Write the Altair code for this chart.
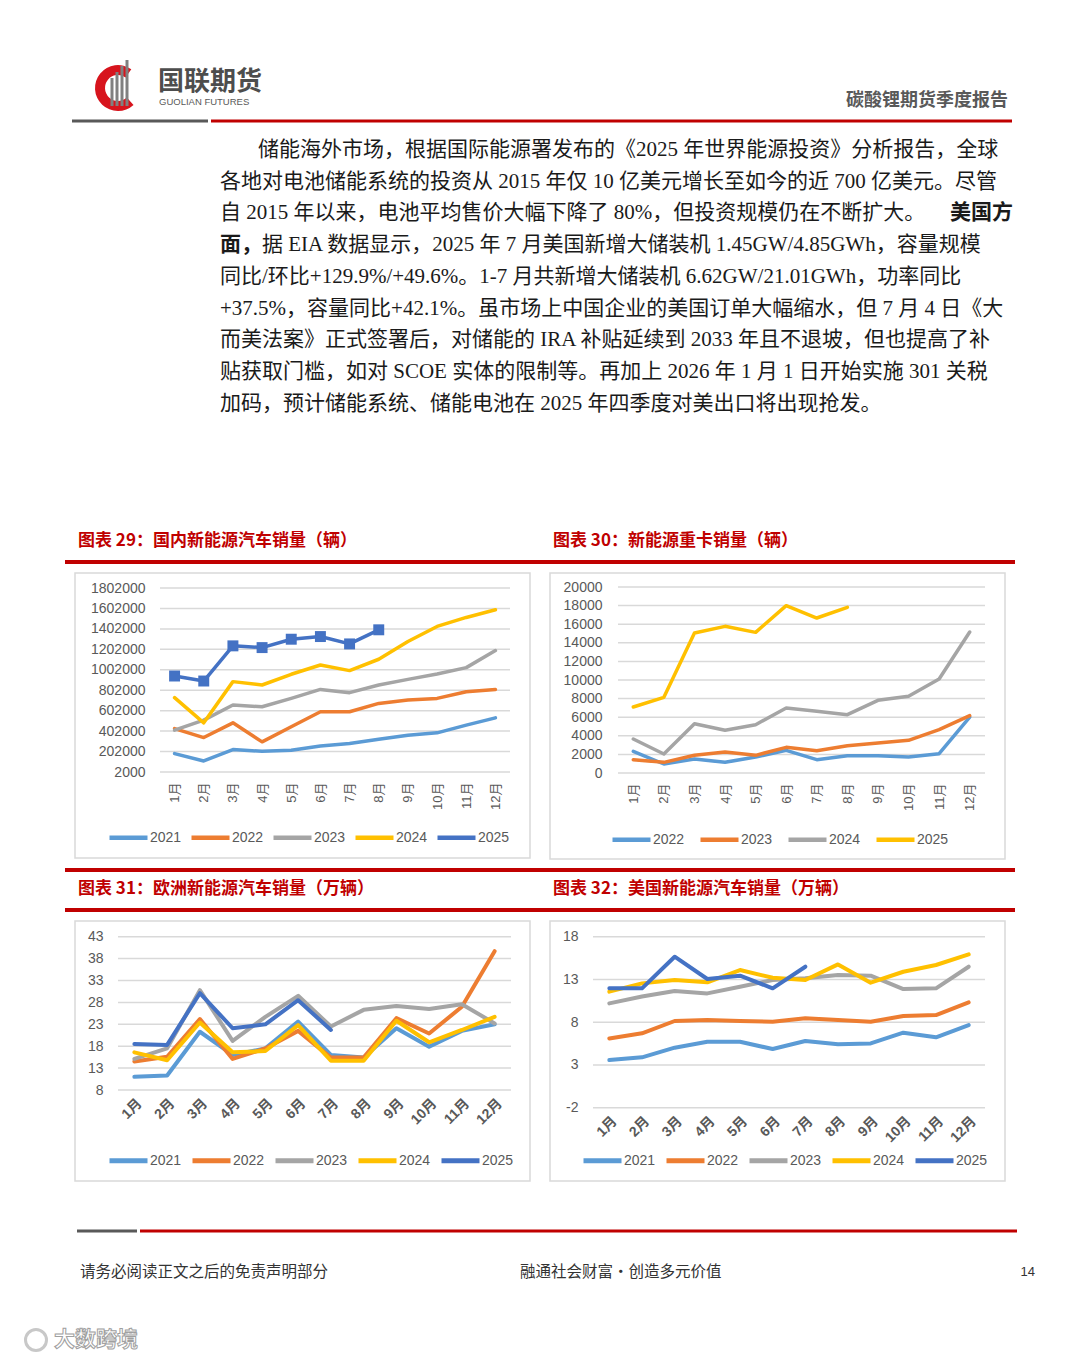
import altair as alt
import pandas as pd

# ---------------- data ----------------
months = ["1月", "2月", "3月", "4月", "5月", "6月", "7月", "8月", "9月", "10月", "11月", "12月"]

# 图表29 国内新能源汽车销量（辆）
c29_names = ["2021", "2022", "2023", "2024", "2025"]
c29_2021 = [182000, 110000, 221000, 205000, 215000, 257000, 280000, 323000, 362000, 385000, 460000, 532000]
c29_2022 = [427000, 339000, 483000, 297000, 444000, 591000, 591000, 673000, 706000, 722000, 787000, 810000]
c29_2023 = [411000, 509000, 657000, 640000, 722000, 810000, 778000, 853000, 908000, 961000, 1023000, 1190000]
c29_2024 = [729000, 483000, 886000, 853000, 958000, 1049000, 994000, 1105000, 1278000, 1426000, 1514000, 1589000]
c29_2025 = [941000, 892000, 1236000, 1219000, 1301000, 1327000, 1255000, 1393000]
c29_ticks = [2000, 202000, 402000, 602000, 802000, 1002000, 1202000, 1402000, 1602000, 1802000]

# 图表30 新能源重卡销量（辆）
c30_names = ["2022", "2023", "2024", "2025"]
c30_2022 = [2330, 968, 1505, 1147, 1720, 2437, 1434, 1864, 1864, 1720, 2079, 6021]
c30_2023 = [1434, 1147, 1900, 2258, 1900, 2760, 2401, 2939, 3226, 3512, 4659, 6165]
c30_2024 = [3656, 2043, 5304, 4588, 5197, 6989, 6630, 6272, 7813, 8243, 10107, 15160]
c30_2025 = [7097, 8136, 15053, 15770, 15124, 17991, 16666, 17812]
c30_ticks = [0, 2000, 4000, 6000, 8000, 10000, 12000, 14000, 16000, 18000, 20000]

# 图表31 欧洲新能源汽车销量（万辆）
c31_names = ["2021", "2022", "2023", "2024", "2025"]
c31_2021 = [11.0, 11.3, 21.3, 16.0, 17.5, 23.6, 16.0, 15.4, 22.1, 17.9, 21.5, 23.0]
c31_2022 = [14.5, 15.6, 24.2, 15.1, 17.5, 21.5, 15.4, 15.4, 24.4, 20.9, 27.0, 39.7]
c31_2023 = [15.1, 17.5, 30.8, 19.2, 24.7, 29.5, 22.5, 26.3, 27.2, 26.5, 27.6, 23.2]
c31_2024 = [16.6, 14.8, 23.4, 16.6, 16.9, 22.8, 14.7, 14.7, 23.8, 18.9, 21.7, 24.7]
c31_2025 = [18.5, 18.3, 30.1, 22.1, 23.0, 28.5, 21.7]
c31_ticks = [8, 13, 18, 23, 28, 33, 38, 43]

# 图表32 美国新能源汽车销量（万辆）
c32_names = ["2021", "2022", "2023", "2024", "2025"]
c32_2021 = [3.57, 3.89, 5.02, 5.72, 5.72, 4.86, 5.8, 5.41, 5.52, 6.77, 6.23, 7.67]
c32_2022 = [6.1, 6.7, 8.14, 8.25, 8.14, 8.06, 8.45, 8.25, 8.06, 8.72, 8.84, 10.32]
c32_2023 = [10.2, 11.0, 11.65, 11.37, 12.15, 12.93, 13.13, 13.52, 13.44, 11.88, 11.96, 14.49]
c32_2024 = [11.57, 12.54, 12.93, 12.66, 14.1, 13.2, 12.93, 14.76, 12.62, 13.9, 14.69, 15.93]
c32_2025 = [11.96, 11.96, 15.66, 13.05, 13.44, 11.96, 14.49]
c32_ticks = [-2, 3, 8, 13, 18]

para_lines = [
    "储能海外市场，根据国际能源署发布的《2025 年世界能源投资》分析报告，全球",
    "各地对电池储能系统的投资从 2015 年仅 10 亿美元增长至如今的近 700 亿美元。尽管",
    "自 2015 年以来，电池平均售价大幅下降了 80%，但投资规模仍在不断扩大。",
    "据 EIA 数据显示，2025 年 7 月美国新增大储装机 1.45GW/4.85GWh，容量规模",
    "同比/环比+129.9%/+49.6%。1-7 月共新增大储装机 6.62GW/21.01GWh，功率同比",
    "+37.5%，容量同比+42.1%。虽市场上中国企业的美国订单大幅缩水，但 7 月 4 日《大",
    "而美法案》正式签署后，对储能的 IRA 补贴延续到 2033 年且不退坡，但也提高了补",
    "贴获取门槛，如对 SCOE 实体的限制等。再加上 2026 年 1 月 1 日开始实施 301 关税",
    "加码，预计储能系统、储能电池在 2025 年四季度对美出口将出现抢发。",
]
bold_a = "美国方"
bold_b = "面，"

titles = ["图表 29：国内新能源汽车销量（辆）", "图表 30：新能源重卡销量（辆）",
          "图表 31：欧洲新能源汽车销量（万辆）", "图表 32：美国新能源汽车销量（万辆）"]

# ---------------- style ----------------
C21, C22, C23, C24, C25 = "#5B9BD5", "#ED7D31", "#A5A5A5", "#FFC000", "#4472C4"
RED = "#C00000"
GRAYLINE = "#595959"
FONT_CH = '"Liberation Sans", "Noto Sans CJK SC"'
FONT_TXT = '"Liberation Serif", "Noto Sans CJK SC"'
FONT_CJK = '"Noto Sans CJK SC"'
ONE = pd.DataFrame({"a": [0]})


def long_df(names, series):
    rows = []
    for name, vals in zip(names, series):
        for i, v in enumerate(vals):
            rows.append({"month": months[i], "idx": i, "year": name, "value": v})
    return pd.DataFrame(rows)


def txt(s, x, y, size, color="#1a1a1a", font=FONT_TXT, weight="normal", align="left",
        stroke=None, sw=0):
    kw = {}
    if stroke is not None:
        kw = {"stroke": stroke, "strokeWidth": sw}
    return alt.Chart(ONE).mark_text(font=font, fontSize=size, fontWeight=weight, color=color,
                                    align=align, baseline="middle", **kw).encode(
        x=alt.value(x), y=alt.value(y), text=alt.value(s))


def hline(x1, x2, y, color, w):
    return alt.Chart(ONE).mark_rule(color=color, strokeWidth=w).encode(
        x=alt.value(x1), x2=alt.value(x2), y=alt.value(y))


def panel(names, series, colors, ydom, yticks, px, py, box, cw, ch, label_right,
          xangle, xbold, xfs, xpad, lx, ly, colpad, lw, marker=None):
    df = long_df(names, series)
    yscale = alt.Scale(domain=ydom, range=py, nice=False, zero=False)
    xscale = alt.Scale(type="point", domain=months, range=px, padding=0.5)
    x_axis = alt.Axis(
        orient="bottom", offset=-(ch - py[0]), labelAngle=xangle, labelPadding=xpad,
        ticks=False, tickSize=0, domain=False, grid=False, title=None, labelOverlap=False,
        labelFont=FONT_CH, labelFontSize=xfs, labelFontWeight="bold" if xbold else "normal",
        labelColor="#595959", zindex=1)
    y_axis = alt.Axis(
        orient="left", offset=-px[0], values=yticks, labelExpr="'' + datum.value",
        labelPadding=px[0] - label_right, ticks=False, tickSize=0, domain=False, grid=False,
        title=None, labelOverlap=False, labelFont=FONT_CH, labelFontSize=14,
        labelColor="#595959", zindex=1)
    box_layer = alt.Chart(ONE).mark_rect(fill="white", stroke="#D9D9D9", strokeWidth=1.5).encode(
        x=alt.value(box[0]), x2=alt.value(box[1]), y=alt.value(box[2]), y2=alt.value(box[3]))
    grid = alt.Chart(pd.DataFrame({"value": yticks})).mark_rule(color="#D9D9D9", strokeWidth=1.5).encode(
        y=alt.Y("value:Q", scale=yscale, axis=y_axis),
        x=alt.value(px[0]), x2=alt.value(px[1]))
    lines = alt.Chart(df).mark_line(strokeWidth=lw, strokeCap="round", strokeJoin="round").encode(
        x=alt.X("month:O", scale=xscale, axis=x_axis),
        y=alt.Y("value:Q", scale=yscale, axis=y_axis),
        color=alt.Color("year:N", scale=alt.Scale(domain=names, range=colors), legend=alt.Legend(
            orient="none", legendX=lx, legendY=ly, direction="horizontal", columns=len(names),
            title=None, symbolType="stroke", symbolSize=1444, symbolStrokeWidth=lw + 1,
            labelFont=FONT_CH, labelFontSize=14, labelColor="#595959", columnPadding=colpad,
            labelOffset=0, padding=0, rowPadding=0, zindex=1)),
        order=alt.Order("idx:Q"),
    )
    layers = [box_layer, grid, lines]
    if marker is not None:
        mdf = df[df["year"] == marker]
        mk = alt.Chart(mdf).mark_point(shape="square", filled=True, size=120, opacity=1,
                                       color=colors[names.index(marker)]).encode(
            x=alt.X("month:O", scale=xscale, axis=x_axis),
            y=alt.Y("value:Q", scale=yscale, axis=y_axis))
        layers.append(mk)
    return alt.layer(*layers).properties(width=cw, height=ch)


# ---------------- row 1: header, paragraph, titles 29/30 ----------------
r1 = []
r1.append(alt.Chart(ONE).mark_arc(radius=23, radius2=13, theta=2.4, theta2=6.9, color="#D7141D").encode(
    x=alt.value(110), y=alt.value(80)))
for bx, top in [(104, 70), (109, 64), (114, 58), (119, 52)]:
    r1.append(alt.Chart(ONE).mark_rule(color="#808080", strokeWidth=3).encode(
        x=alt.value(bx), y=alt.value(top), y2=alt.value(98)))
r1.append(txt("国联期货", 150, 74, 26, color="#4D4D4D", font=FONT_CJK, weight="bold"))
r1.append(txt("GUOLIAN FUTURES", 151, 94, 9.5, color="#595959", font='"Liberation Sans"'))
r1.append(txt("碳酸锂期货季度报告", 1000, 93, 18, color="#595959", font=FONT_CJK, weight="bold", align="right"))
r1.append(hline(64, 200, 113, GRAYLINE, 3))
r1.append(hline(203, 1004, 113, RED, 3))

line_y = [142, 174, 205, 237, 269, 301, 332, 364, 396]
for i, s in enumerate(para_lines):
    if i == 0:
        r1.append(txt(s, 250, line_y[i], 21))
    elif i == 3:
        r1.append(txt(bold_b, 212, line_y[i], 21, weight="bold", font=FONT_CJK))
        r1.append(txt(s, 254, line_y[i], 21))
    else:
        r1.append(txt(s, 212, line_y[i], 21))
    if i == 2:
        r1.append(txt(bold_a, 1005, line_y[i], 21, weight="bold", font=FONT_CJK, align="right"))

r1.append(txt(titles[0], 70, 533, 17, color=RED, font=FONT_CJK, weight="bold"))
r1.append(txt(titles[1], 545, 533, 17, color=RED, font=FONT_CJK, weight="bold"))
r1.append(hline(57, 1007, 554, RED, 4))
row1 = alt.layer(*r1).properties(width=1064, height=564)

# ---------------- row 2: charts 29 / 30 ----------------
p29 = panel(c29_names, [c29_2021, c29_2022, c29_2023, c29_2024, c29_2025],
            [C21, C22, C23, C24, C25], [2000, 1802000], c29_ticks,
            [152, 502], [200, 16], (67, 522, 1, 286), 522, 288, 137,
            270, False, 13, 10, 99, 244, 0, 3.5, marker="2025")
p30 = panel(c30_names, [c30_2022, c30_2023, c30_2024, c30_2025],
            [C21, C22, C23, C24], [0, 20000], c30_ticks,
            [88, 455], [201, 15], (20, 475, 1, 287), 542, 288, 72,
            270, False, 13, 10, 80, 246, 6, 3.5)
row2 = alt.hconcat(p29, p30, spacing=0, bounds="flush").resolve_scale(
    color="independent").resolve_legend(color="independent")

# ---------------- row 3: titles 31 / 32 ----------------
r3 = [hline(57, 1007, 10, RED, 4),
      txt(titles[2], 70, 29, 17, color=RED, font=FONT_CJK, weight="bold"),
      txt(titles[3], 545, 29, 17, color=RED, font=FONT_CJK, weight="bold"),
      hline(57, 1007, 50, RED, 4)]
row3 = alt.layer(*r3).properties(width=1064, height=60)

# ---------------- row 4: charts 31 / 32 ----------------
p31 = panel(c31_names, [c31_2021, c31_2022, c31_2023, c31_2024, c31_2025],
            [C21, C22, C23, C24, C25], [8, 43], c31_ticks,
            [110, 503], [170, 16.7], (67, 522, 1, 261), 522, 262, 95,
            315, True, 14, 6, 99, 219, 0, 4)
p32 = panel(c32_names, [c32_2021, c32_2022, c32_2023, c32_2024, c32_2025],
            [C21, C22, C23, C24, C25], [-2, 18], c32_ticks,
            [63, 455], [187.7, 16.7], (20, 475, 1, 261), 542, 262, 48,
            315, True, 14, 6, 51, 219, 0, 4)
row4 = alt.hconcat(p31, p32, spacing=0, bounds="flush").resolve_scale(
    color="independent").resolve_legend(color="independent")

# ---------------- row 5: footer ----------------
r5 = [hline(69, 129, 49, GRAYLINE, 3),
      hline(132, 1009, 49, RED, 3),
      txt("请务必阅读正文之后的免责声明部分", 72, 90, 15.5, color="#333333", font=FONT_CJK),
      txt("融通社会财富·创造多元价值", 512, 90, 15.5, color="#333333", font=FONT_CJK),
      txt("14", 1027, 90, 13, color="#333333", font='"Liberation Sans"', align="right"),
      alt.Chart(ONE).mark_arc(radius=12, radius2=9, theta=0, theta2=6.2832, color="#C8C8C8").encode(
          x=alt.value(28), y=alt.value(158)),
      txt("大数跨境", 46, 158, 21, color="#FFFFFF", font=FONT_CJK, weight="bold", stroke="#A0A0A0", sw=1)]
row5 = alt.layer(*r5).properties(width=1064, height=175)

chart = alt.vconcat(row1, row2, row3, row4, row5, spacing=0).resolve_scale(
    color="independent").resolve_legend(color="independent").properties(
    padding=0, background="white").configure_view(stroke=None)

chart.save("out.html", embed_options={"renderer": "svg", "actions": False})
